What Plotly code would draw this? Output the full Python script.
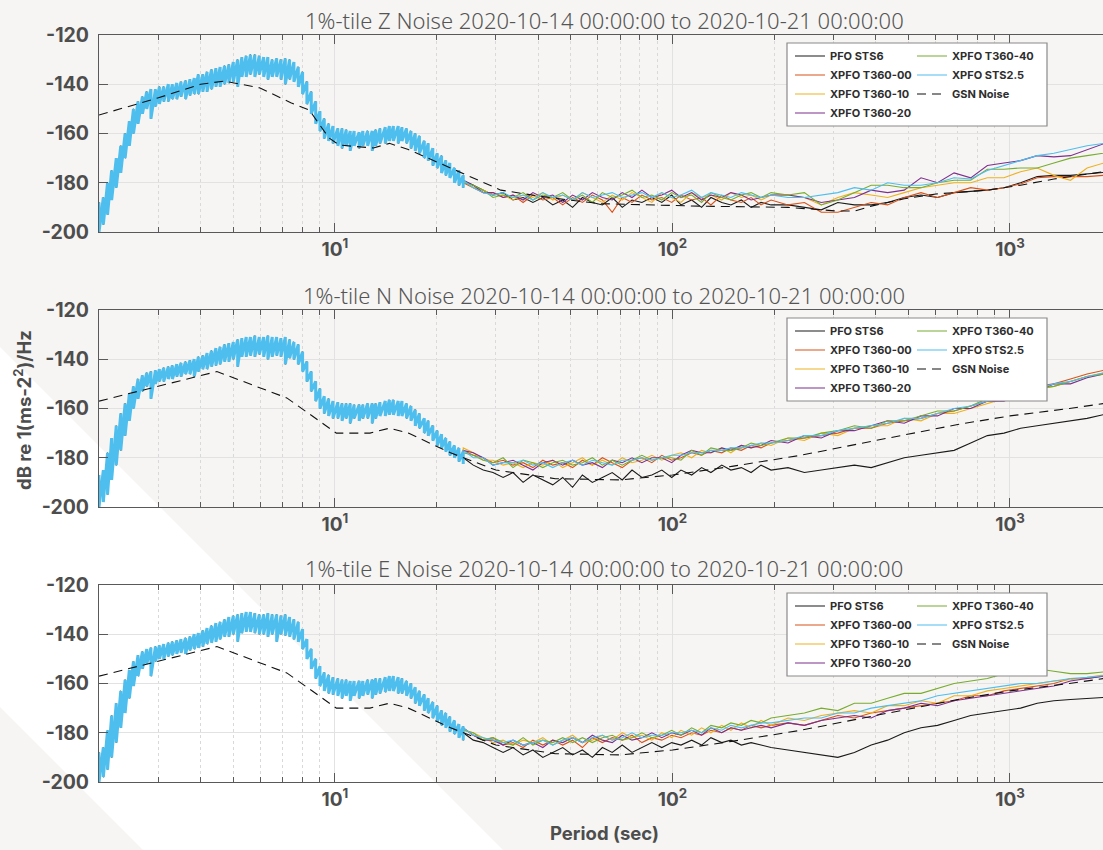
import plotly.graph_objects as go

# ---------------- data ----------------
# short-period grid (s), shared by the three panels
SP = [2.00, 2.06, 2.12, 2.18, 2.25, 2.32, 2.39, 2.46, 2.53, 2.61,
      2.69, 2.77, 2.85, 2.94, 3.02, 3.11, 3.21, 3.30, 3.40, 3.50,
      3.61, 3.72, 3.83, 3.94, 4.06, 4.18, 4.31, 4.44, 4.57, 4.71,
      4.85, 5.00, 5.15, 5.30, 5.46, 5.62, 5.79, 5.97, 6.15, 6.33,
      6.52, 6.72, 6.92, 7.13, 7.34, 7.56, 7.79, 8.02, 8.26, 8.51,
      8.77, 9.03, 9.30, 9.58, 9.87, 10.2, 10.5, 10.8, 11.1, 11.4,
      11.8, 12.1, 12.5, 12.9, 13.2, 13.6, 14.1, 14.5, 14.9, 15.4,
      15.8, 16.3, 16.8, 17.3, 17.8, 18.4, 18.9, 19.5, 20.1, 20.7,
      21.3, 21.9, 22.6, 23.3, 24.0]

# upper / lower edge of the dense noisy band at short periods (dB)
Z_HI = [-188, -186, -180, -175, -170, -165, -160, -155, -150, -147,
        -145, -143, -142, -142, -141, -141, -140, -140, -139.5, -139,
        -138.5, -138, -137.5, -136, -136, -135, -134, -133.5, -133, -132.5,
        -132, -131, -130, -129, -128.5, -128, -128, -128.5, -129, -129,
        -130, -129.5, -130, -129.5, -130, -131, -133, -135, -139, -143,
        -147, -151, -154, -156, -157, -158, -158, -158.5, -159, -159,
        -159.5, -159, -159, -159, -158.5, -158, -157.5, -157, -157, -157,
        -157.5, -158, -159, -160, -161, -163, -164, -166, -168, -169,
        -171, -172, -174, -175, -177]
Z_LO = [-200, -197, -193, -187, -182, -176, -170, -165, -160, -156,
        -152, -150, -154, -149, -148, -147, -147, -146, -146, -145,
        -146, -144.5, -144, -144, -143, -143, -142, -141, -141, -140,
        -139.5, -139, -141, -137, -137, -136, -137, -136, -137, -138,
        -137, -137, -138, -140, -138, -139, -141, -144, -148, -152,
        -156, -159, -162, -163, -164, -165, -166, -165, -167, -165,
        -166, -165, -165, -167, -165, -164, -164, -163, -163, -164,
        -163, -164, -166, -167, -168, -170, -171, -173, -174, -176,
        -177, -178, -180, -181, -182]
N_HI = [-187, -185, -178, -172, -167, -162, -158, -154, -151, -148,
        -146.5, -145.5, -145, -144.5, -144, -143.5, -143, -142.5, -142, -141.5,
        -141, -140.5, -140, -139, -138.5, -137.5, -136.5, -135.5, -135, -134,
        -133.5, -133, -132, -131.5, -131, -131, -130.5, -131, -131, -130.5,
        -131, -131, -131.5, -131, -132, -133, -134, -137, -141, -145,
        -149, -152, -155, -156, -157, -157.5, -158, -158, -158, -158.5,
        -158.5, -158.5, -158, -158, -158, -157.5, -157, -156.5, -156.5, -157,
        -157, -158, -159, -160.5, -162, -164, -165, -167, -169, -170.5,
        -172, -173.5, -175, -176, -177.5]
N_LO = [-200, -198, -195, -189, -183, -177, -171, -165, -160, -156,
        -153, -151, -156, -150, -149, -149, -148, -148, -147, -147,
        -146, -146, -147, -145, -144, -144, -143, -142.5, -142, -141,
        -141, -140, -143, -139, -139, -138.5, -139, -138, -139, -140,
        -139, -138.5, -139, -142, -139.5, -140, -142, -145, -149, -153,
        -157, -160, -162, -163, -164, -164, -165, -164, -166, -164,
        -165, -164, -164, -166, -164, -163, -163, -162.5, -162.5, -163,
        -163, -164, -165, -167, -168, -170, -171, -173, -175, -176,
        -177.5, -179, -180, -181.5, -182.5]
E_HI = [-188, -186, -179, -173, -168, -163, -158.5, -154.5, -151, -148.5,
        -147, -146, -145.5, -145, -144.5, -144, -143.5, -143, -142.5, -142,
        -141.5, -141, -140, -139.5, -138.5, -137.5, -136.5, -135.5, -135, -134,
        -133, -132.5, -132, -131.5, -131, -131, -131.5, -132, -132, -131.5,
        -132, -132, -132.5, -132, -133, -134, -135, -138, -142, -146,
        -150, -153, -155.5, -156.5, -157.5, -158, -158.5, -158.5, -159, -159,
        -159, -159, -158.5, -158.5, -158, -158, -157.5, -157, -157, -157.5,
        -158, -159, -160, -161.5, -163, -164.5, -166, -167.5, -169, -171,
        -172, -173.5, -175, -176.5, -177.5]
E_LO = [-200, -198, -195, -190, -184, -178, -172, -166, -161, -157,
        -154, -152, -157, -151, -150, -150, -149, -148.5, -148, -147.5,
        -148, -146.5, -146, -145.5, -145, -144, -143.5, -143, -142, -141,
        -141, -140, -143, -139.5, -139, -139, -139.5, -140, -140, -141,
        -140, -143, -140, -140.5, -141, -142, -143, -146, -150, -154,
        -158, -161, -163, -164, -164.5, -165, -166, -165, -167, -165,
        -166, -165, -164.5, -166, -164.5, -164, -163.5, -163, -163, -164,
        -164, -165, -166, -168, -169, -171, -172, -174, -175.5, -177,
        -178, -179.5, -180.5, -182, -183]

# long-period grid (s)
LP = [24.0, 25.7, 27.5, 29.4, 31.5, 33.7, 36.1, 38.6, 41.3, 44.2,
      47.3, 50.6, 54.1, 57.9, 62.0, 66.3, 71.0, 75.9, 81.2, 86.9,
      93.0, 99.5, 106, 114, 122, 130, 140, 149, 160, 171,
      183, 196, 220, 246, 276, 309, 346, 388, 434, 486,
      545, 610, 683, 765, 857, 960, 1075, 1204, 1349, 1511,
      1692, 1895, 2000]

# ---- Z ----
Z_PFO = [-179, -181, -183, -185, -184, -187, -186, -188, -186, -189,
         -187, -190, -186, -188, -189, -186, -190, -187, -188, -186,
         -188, -185, -189, -187, -190, -186, -188, -189, -187, -190,
         -188, -189, -189, -190, -191, -188, -189, -189, -188, -186,
         -185, -186, -184, -183.5, -183, -182, -180, -177.5, -177, -177,
         -176.5, -176, -175.5]
Z_T00 = [-180, -182, -184, -184, -186, -185, -188, -185, -187, -186,
         -189, -186, -188, -185, -187, -192, -186, -188, -185, -187,
         -186, -188, -185, -187, -186, -189, -185, -187, -188, -186,
         -189, -187, -189, -188, -192, -192, -190, -188, -189, -186,
         -184, -186, -184, -182, -183, -182, -180.5, -178, -177.5, -177.5,
         -177.5, -177, -176.5]
Z_T10 = [-179, -182, -183, -185, -185, -187, -185, -186, -184, -187,
         -185, -187, -184, -186, -188, -185, -187, -184, -186, -188,
         -184, -186, -188, -184, -186, -185, -187, -184, -186, -185,
         -187, -185, -185, -186, -189, -186, -184, -185, -186, -184,
         -182, -181, -180, -180, -178, -178, -175.5, -174, -177, -179,
         -174, -172, -171]
Z_T20 = [-179, -181, -184, -184, -186, -185, -187, -184, -186, -185,
         -188, -185, -187, -184, -186, -187, -184, -186, -183, -186,
         -185, -183, -186, -184, -187, -185, -186, -184, -185, -187,
         -186, -185, -185, -186, -188, -187, -186, -183, -184, -183,
         -178, -180, -176, -178, -173, -172, -171, -169, -169.5, -169,
         -166.5, -164, -163]
Z_T40 = [-180, -181, -183, -186, -185, -186, -184, -187, -185, -186,
         -184, -187, -185, -188, -184, -186, -185, -183, -186, -185,
         -187, -184, -186, -185, -188, -184, -186, -187, -185, -184,
         -186, -184, -185, -184, -189, -187, -184, -181, -181, -182,
         -182, -180, -179, -179, -174.5, -174.5, -174, -174, -172, -170,
         -169, -168, -167.5]
Z_S25 = [-179, -182, -184, -185, -184, -186, -185, -187, -184, -186,
         -185, -187, -184, -186, -185, -184, -186, -185, -184, -186,
         -184, -186, -185, -183, -186, -184, -185, -186, -184, -185,
         -186, -185, -186, -186, -185, -184, -182, -183, -180, -181,
         -181, -180, -178, -178.5, -175, -173, -171, -169, -168, -166.5,
         -165, -164, -163.5]

# ---- N ----
N_PFO = [-180, -183, -185, -186, -188, -186, -190, -187, -189, -191,
         -188, -192, -187, -190, -188, -186, -189, -185, -188, -187,
         -185, -188, -185, -187, -184, -186, -183, -185, -184, -186,
         -183, -185, -184, -186, -185, -184, -183, -184, -182, -180,
         -179, -178, -177, -174, -171, -170, -168, -167, -166, -165,
         -164, -162.5, -162]
N_T00 = [-177, -179, -180, -182, -181, -183, -182, -184, -181, -183,
         -182, -184, -181, -183, -180, -182, -184, -181, -180, -182,
         -179, -181, -180, -178, -179, -177, -178, -176, -177, -175,
         -176, -174, -173, -172, -171, -170, -168, -168, -166, -165,
         -164, -162, -161, -159, -157, -155.5, -154, -151, -150, -148,
         -146, -144.5, -144]
N_T10 = [-176, -178, -181, -181, -183, -182, -184, -182, -183, -181,
         -184, -182, -180, -183, -181, -183, -180, -182, -181, -179,
         -181, -179, -178, -180, -177, -178, -176, -178, -175, -176,
         -174, -175, -172, -173, -170, -171, -168, -167, -167, -164,
         -165, -162, -162, -160, -158, -156, -155, -152, -151, -149,
         -147, -145.5, -145]
N_T20 = [-177, -178, -180, -183, -182, -181, -183, -185, -182, -181,
         -183, -181, -183, -182, -184, -181, -182, -180, -182, -180,
         -180, -182, -179, -177, -178, -178, -176, -177, -175, -176,
         -175, -173, -174, -171, -172, -169, -169, -167, -165, -166,
         -163, -163, -160, -160, -157, -157, -154, -153, -150, -150,
         -147.5, -146, -145.5]
N_T40 = [-178, -179, -181, -182, -180, -184, -181, -182, -184, -182,
         -181, -183, -182, -180, -183, -181, -183, -181, -179, -181,
         -180, -180, -181, -177, -179, -176, -177, -177, -176, -174,
         -175, -174, -172, -172, -170, -169, -167, -168, -165, -165,
         -163, -161, -161, -159, -156, -156, -153, -152, -151, -149,
         -147, -146, -145.5]
N_S25 = [-177, -180, -180, -183, -182, -182, -181, -183, -182, -184,
         -182, -181, -183, -181, -182, -183, -181, -181, -180, -181,
         -180, -179, -179, -178, -178, -177, -177, -176, -176, -175,
         -174, -174, -173, -171, -171, -169, -168, -167, -166, -164,
         -164, -162, -160, -159, -157, -156, -154, -152, -150, -149,
         -147, -145.5, -145]

# ---- E ----
E_PFO = [-180, -183, -184, -186, -188, -186, -189, -187, -190, -188,
         -186, -189, -187, -190, -186, -188, -185, -188, -186, -184,
         -186, -184, -185, -183, -185, -182, -184, -183, -185, -184,
         -185, -186, -187, -188, -189, -190, -188, -185, -183, -180,
         -178, -177, -175, -173, -172, -171, -170, -168, -167, -166.5,
         -166, -165.5, -165.5]
E_T00 = [-178, -181, -183, -182, -185, -184, -186, -183, -185, -183,
         -185, -183, -186, -182, -184, -182, -183, -181, -184, -182,
         -183, -181, -182, -180, -181, -179, -180, -178, -179, -177,
         -178, -177, -176, -177, -175, -173, -174, -172, -171, -170,
         -169, -168, -167, -165, -165, -163, -162, -161, -160, -158,
         -158, -157, -156.5]
E_T10 = [-179, -180, -182, -184, -183, -185, -183, -184, -182, -185,
         -183, -181, -184, -183, -181, -183, -180, -182, -181, -183,
         -180, -182, -179, -181, -178, -180, -177, -179, -176, -178,
         -175, -177, -174, -175, -173, -172, -171, -172, -169, -169,
         -167, -168, -165, -165, -163, -162, -161, -160, -159, -158.5,
         -157.5, -156.5, -156]
E_T20 = [-178, -181, -183, -183, -185, -183, -185, -184, -186, -183,
         -184, -182, -184, -181, -183, -184, -181, -183, -182, -180,
         -182, -180, -181, -179, -181, -178, -180, -178, -179, -178,
         -177, -178, -176, -177, -175, -174, -173, -174, -171, -170,
         -168, -169, -167, -166, -165, -164, -163, -162, -161, -159,
         -158, -157, -156.5]
E_T40 = [-179, -180, -183, -182, -184, -185, -182, -185, -183, -184,
         -182, -184, -182, -184, -182, -181, -183, -182, -180, -182,
         -181, -179, -181, -178, -180, -177, -178, -176, -177, -175,
         -176, -174, -173, -172, -170, -171, -168, -168, -166, -164,
         -164, -162, -160, -159, -158, -156, -155, -154, -155, -156,
         -156, -155.5, -155]
E_S25 = [-178, -181, -182, -183, -184, -183, -185, -184, -183, -185,
         -183, -182, -184, -182, -181, -183, -182, -180, -182, -181,
         -181, -180, -180, -179, -180, -178, -179, -177, -178, -177,
         -176, -176, -175, -174, -174, -172, -172, -170, -169, -168,
         -167, -165, -164, -163, -162, -161, -160, -160, -159, -158,
         -157.5, -157, -156.5]

# GSN noise model curves
GSN_Z_P = [2, 3, 4, 4.7, 6, 7.4, 8.4, 9.6, 10.3, 13, 14.5, 16.5, 22, 31, 43, 61,
           120, 220, 309, 346, 388, 486, 610, 857, 1075, 1349, 1692, 2000]
GSN_Z_V = [-152.5, -145.5, -140, -138.7, -141.5, -147.5, -150.5, -161.8, -164.7, -165.9,
           -164, -166.5, -174, -183, -186, -188.5, -189.5, -190, -191.5, -191.5,
           -189.5, -186.5, -184.5, -183, -181, -178.5, -176.5, -175]
GSN_H_P = [2, 4.47, 7.2, 10.1, 12.7, 14.5, 16.5, 22, 30, 45, 70, 100, 150, 240,
           400, 700, 1000, 1500, 2000]
GSN_H_V = [-157, -145, -155.7, -170, -170, -168, -170, -178, -185, -188.5, -189,
           -187, -183.5, -179, -173, -166.5, -163, -160, -157.5]

NAMES = ["PFO STS6", "XPFO T360-00", "XPFO T360-10", "XPFO T360-20",
         "XPFO T360-40", "XPFO STS2.5"]
COLORS = ["#1a1a1a", "#D95319", "#EDB120", "#7E2F8E", "#77AC30", "#4DBEEE"]
COMPS = ["Z", "N", "E"]
TITLE = "1%-tile {} Noise 2020-10-14 00:00:00 to 2020-10-21 00:00:00"
Y_TICKS = [-200, -180, -160, -140, -120]
X_TICKS = [10, 100, 1000]
X_MINOR = [2, 3, 4, 5, 6, 7, 8, 9, 20, 30, 40, 50, 60, 70, 80, 90,
           200, 300, 400, 500, 600, 700, 800, 900, 2000]

PANELS = [
    (Z_HI, Z_LO, [Z_PFO, Z_T00, Z_T10, Z_T20, Z_T40, Z_S25], GSN_Z_P, GSN_Z_V),
    (N_HI, N_LO, [N_PFO, N_T00, N_T10, N_T20, N_T40, N_S25], GSN_H_P, GSN_H_V),
    (E_HI, E_LO, [E_PFO, E_T00, E_T10, E_T20, E_T40, E_S25], GSN_H_P, GSN_H_V),
]

# ---------------- layout geometry ----------------
W, H = 1103, 850
ML, MR, MT, MB = 99, 0, 35, 68
PW, PH = W - ML - MR, H - MT - MB
TOPS = [35, 310, 585]
BOTS = [232, 507, 782]


def pxx(px):
    return (px - ML) / PW


def pxy(py):
    return (H - MB - py) / PH


FONT = "Inter, Noto Sans, sans-serif"
AXC = "#595959"

fig = go.Figure()
layout = {}
shapes = []
annotations = []

# white diagonal band in the page background
band = [(0, 347), (503, 850), (143, 850), (0, 707)]
path = "M " + " L ".join(f"{pxx(a):.4f},{pxy(b):.4f}" for a, b in band) + " Z"
shapes.append(dict(type="path", xref="paper", yref="paper", path=path,
                   fillcolor="#ffffff", line=dict(width=0), layer="below"))

for i, (hi, lo, series, gp, gv) in enumerate(PANELS):
    sfx = "" if i == 0 else str(i + 1)
    xa, ya = "x" + sfx, "y" + sfx
    leg1 = "legend" if i == 0 else f"legend{2 * i + 1}"
    leg2 = f"legend{2 * i + 2}"
    assert len(hi) == len(SP) and len(lo) == len(SP)
    bx = [p for p in SP for _ in (0, 1)]
    by = [v for h, l in zip(hi, lo) for v in (h, l)]
    for k, (name, col, vals) in enumerate(zip(NAMES, COLORS, series)):
        assert len(vals) == len(LP), (i, k, len(vals))
        grp = f"{name}-{i}"
        if k == 5:
            # dense short-period part of the top series, drawn as a thick band
            fig.add_trace(go.Scatter(
                x=bx, y=by, mode="lines", name=name, legendgroup=grp,
                showlegend=False, line=dict(color=col, width=3),
                xaxis=xa, yaxis=ya, hoverinfo="skip"))
            fig.add_trace(go.Scatter(
                x=LP, y=vals, mode="lines", name=name, legendgroup=grp,
                line=dict(color=col, width=1.1), xaxis=xa, yaxis=ya,
                legend=leg2, hoverinfo="skip"))
        else:
            fig.add_trace(go.Scatter(
                x=bx + LP, y=by + vals, mode="lines", name=name, legendgroup=grp,
                line=dict(color=col, width=1.1), xaxis=xa, yaxis=ya,
                legend=leg1 if k < 4 else leg2, hoverinfo="skip"))
    fig.add_trace(go.Scatter(
        x=gp, y=gv, mode="lines", name="GSN Noise",
        line=dict(color="#111111", width=1.1, dash="9px,6px"),
        xaxis=xa, yaxis=ya, legend=leg2, hoverinfo="skip"))

    dom = [pxy(BOTS[i]), pxy(TOPS[i])]
    layout["xaxis" + sfx] = dict(
        type="log", range=[0.30103, 3.2756], domain=[0, 1], anchor=ya,
        tickmode="array", tickvals=X_TICKS,
        ticktext=[f"10<sup>{e}</sup>" for e in (1, 2, 3)],
        ticks="inside", ticklen=9, tickwidth=1, tickcolor=AXC,
        showline=True, linecolor=AXC, linewidth=1.2, mirror="ticks",
        showgrid=True, gridcolor="#e2e2e2", gridwidth=1, zeroline=False,
        tickfont=dict(family=FONT, size=19, color="#4d4d4d", weight="bold"),
        minor=dict(tickmode="array", tickvals=X_MINOR, ticks="inside",
                   ticklen=5, tickcolor=AXC, tickwidth=1, showgrid=True,
                   gridcolor="#d9d9d9", griddash="dot", gridwidth=1),
    )
    layout["yaxis" + sfx] = dict(
        range=[-200, -120], domain=dom, anchor=xa,
        tickmode="array", tickvals=Y_TICKS, ticktext=[str(v) for v in Y_TICKS],
        ticks="inside", ticklen=9, tickwidth=1, tickcolor=AXC,
        showline=True, linecolor=AXC, linewidth=1.2, mirror=False,
        showgrid=True, gridcolor="#e2e2e2", gridwidth=1, zeroline=False,
        ticklabelstandoff=5,
        tickfont=dict(family=FONT, size=19.5, color="#4d4d4d", weight="bold"),
    )

    # legends (two columns) and their common box
    off = TOPS[i] - TOPS[0]
    for name, left in ((leg1, 790), (leg2, 912)):
        layout[name] = dict(
            xref="container", yref="container", x=left / W, xanchor="left",
            y=1 - (41.5 + off) / H, yanchor="top", bgcolor="rgba(0,0,0,0)",
            borderwidth=0, itemwidth=30, tracegroupgap=0,
            font=dict(family=FONT, size=11, color="#2e2e2e", weight="bold"))
    shapes.append(dict(type="rect", xref="paper", yref="paper",
                       x0=pxx(787), x1=pxx(1047), y0=pxy(126 + off), y1=pxy(43 + off),
                       fillcolor="#ffffff", line=dict(color="#8a8a8a", width=1.2),
                       layer="above"))

    annotations.append(dict(
        text=TITLE.format(COMPS[i]), xref="paper", yref="paper",
        x=pxx(604), y=pxy([20, 295, 568][i]), xanchor="center", yanchor="middle",
        showarrow=False, font=dict(family="Noto Sans, sans-serif", size=22,
                                   color="#555555", weight=300)))

annotations.append(dict(
    text="dB re 1(ms-2<sup>2</sup>)/Hz", xref="paper", yref="paper",
    x=pxx(22), y=pxy(410), xanchor="center", yanchor="middle", textangle=-90,
    showarrow=False, font=dict(family=FONT, size=18.5, color="#4d4d4d", weight="bold")))
annotations.append(dict(
    text="Period (sec)", xref="paper", yref="paper",
    x=pxx(604), y=pxy(833), xanchor="center", yanchor="middle",
    showarrow=False, font=dict(family=FONT, size=18.5, color="#4d4d4d", weight="bold")))

fig.update_layout(
    width=W, height=H,
    margin=dict(l=ML, r=MR, t=MT, b=MB, autoexpand=False),
    paper_bgcolor="#f6f5f3", plot_bgcolor="rgba(0,0,0,0)",
    showlegend=True, shapes=shapes, annotations=annotations,
    **layout,
)

fig.write_html("out.html")
